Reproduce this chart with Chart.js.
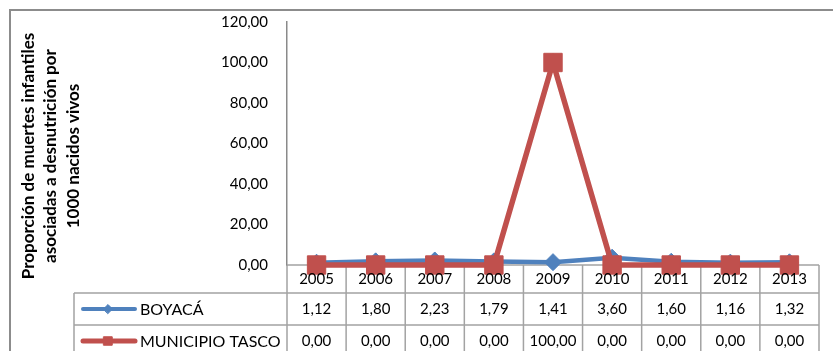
<!DOCTYPE html>
<html>
<head>
<meta charset="utf-8">
<script src="https://cdn.jsdelivr.net/npm/chart.js@4/dist/chart.umd.min.js"></script>
<style>
  html, body { margin: 0; padding: 0; background: #fff; }
  canvas { display: block; }
</style>
</head>
<body>
<canvas id="chart" width="833" height="351"></canvas>
<script>
// Years shown along the category axis and in the data table header
const years = ['2005', '2006', '2007', '2008', '2009', '2010', '2011', '2012', '2013'];
// Rate per 1000 live births, department level
const boyaca = [1.12, 1.80, 2.23, 1.79, 1.41, 3.60, 1.60, 1.16, 1.32];
// Rate per 1000 live births, municipality
const tasco = [0.00, 0.00, 0.00, 0.00, 100.00, 0.00, 0.00, 0.00, 0.00];
const seriesNames = ['BOYACÁ', 'MUNICIPIO TASCO'];
const yTicks = [0, 20, 40, 60, 80, 100, 120];
const yTitle = ['Proporción de muertes infantiles', 'asociadas a desnutrición por', '1000 nacidos vivos'];

const BLUE = '#4F81BD';
const RED = '#C0504D';
const GRID = '#a3a3a3';
const FONT = 'Lato';

const fmt = v => v.toFixed(2).replace('.', ',');

Chart.defaults.font.family = FONT;
Chart.defaults.font.size = 15;
Chart.defaults.color = '#000';

// Layout of the data table under the plot
const TABLE = {
  legendLeft: 74,     // left edge of the series-name column
  headerH: 28,        // height of the year row
  rowH: 32,           // height of each series row
};

const seriesStyles = [
  { color: BLUE, pointStyle: 'rectRot', radius: 4.5, lineW: 4 },
  { color: RED, pointStyle: 'rect', radius: 6, lineW: 5 },
];

const framePlugin = {
  id: 'frame',
  beforeDraw(chart) {
    const ctx = chart.ctx;
    ctx.save();
    ctx.strokeStyle = '#8c8c8c';
    ctx.lineWidth = 2;
    ctx.strokeRect(10, 10, chart.width + 20, chart.height + 20);
    ctx.restore();
  }
};

const tablePlugin = {
  id: 'dataTable',
  beforeDatasetsDraw(chart) {
    const { ctx, chartArea: a, scales: { x } } = chart;
    const colW = x.getPixelForValue(1) - x.getPixelForValue(0);
    const left = x.getPixelForValue(0) - colW / 2;
    const right = x.getPixelForValue(years.length - 1) + colW / 2;
    const r1 = a.bottom + TABLE.headerH;
    const r2 = r1 + TABLE.rowH;
    const bottom = chart.height + 5;
    ctx.save();
    ctx.strokeStyle = GRID;
    ctx.lineWidth = 1.5;
    ctx.beginPath();
    ctx.moveTo(left, a.bottom); ctx.lineTo(right, a.bottom);
    ctx.moveTo(TABLE.legendLeft, r1); ctx.lineTo(right, r1);
    ctx.moveTo(TABLE.legendLeft, r2); ctx.lineTo(right, r2);
    for (let i = 1; i <= years.length; i++) {
      const xp = left + i * colW;
      ctx.moveTo(xp, a.bottom); ctx.lineTo(xp, bottom);
    }
    ctx.moveTo(left, a.bottom); ctx.lineTo(left, bottom);
    ctx.moveTo(TABLE.legendLeft, r1); ctx.lineTo(TABLE.legendLeft, bottom);
    ctx.stroke();
    ctx.restore();
  },
  afterDraw(chart) {
    const { ctx, chartArea: a, scales: { x } } = chart;
    const r1 = a.bottom + TABLE.headerH;
    const rowCenters = [r1 + TABLE.rowH / 2, r1 + TABLE.rowH + 16];
    ctx.save();
    ctx.fillStyle = '#000';
    ctx.font = `15px ${FONT}`;
    ctx.textAlign = 'center';
    ctx.textBaseline = 'middle';
    years.forEach((yr, i) => ctx.fillText(yr, x.getPixelForValue(i), a.bottom + 14));
    chart.data.datasets.forEach((ds, d) => {
      ds.data.forEach((v, i) => ctx.fillText(fmt(v), x.getPixelForValue(i), rowCenters[d]));
    });
    // series keys in the first column
    ctx.textAlign = 'left';
    ctx.font = `16px ${FONT}`;
    chart.data.datasets.forEach((ds, d) => {
      const st = seriesStyles[d];
      const cy = rowCenters[d];
      ctx.strokeStyle = st.color;
      ctx.fillStyle = st.color;
      ctx.lineWidth = st.lineW;
      ctx.lineCap = 'round';
      ctx.beginPath();
      ctx.moveTo(83, cy); ctx.lineTo(135, cy);
      ctx.stroke();
      ctx.lineWidth = 1;
      Chart.helpers.drawPoint(ctx, { pointStyle: st.pointStyle, radius: st.radius, rotation: 0, borderWidth: 1 }, 108, cy);
      ctx.fillStyle = '#000';
      ctx.fillText(ds.label, 140, cy + 1);
    });
    // vertical axis title
    ctx.translate(51, 156);
    ctx.rotate(-Math.PI / 2);
    ctx.font = `bold 17px ${FONT}`;
    ctx.textAlign = 'center';
    yTitle.forEach((line, i) => ctx.fillText(line, 0, (i - 1) * 22.5));
    ctx.restore();
  }
};

new Chart(document.getElementById('chart'), {
  type: 'line',
  data: {
    labels: years,
    datasets: [
      {
        label: seriesNames[0],
        data: boyaca,
        borderColor: BLUE,
        backgroundColor: BLUE,
        borderWidth: 4.5,
        pointStyle: 'rectRot',
        pointRadius: 8.5,
        pointBorderWidth: 1,
        pointBackgroundColor: BLUE,
        pointBorderColor: BLUE,
        tension: 0,
        clip: false,
        order: 1,
      },
      {
        label: seriesNames[1],
        data: tasco,
        borderColor: RED,
        backgroundColor: RED,
        borderWidth: 5.5,
        pointStyle: 'rect',
        pointRadius: 13,
        pointBorderWidth: 1,
        pointBackgroundColor: RED,
        pointBorderColor: RED,
        tension: 0,
        clip: false,
        order: 0,
      },
    ],
  },
  options: {
    responsive: false,
    animation: false,
    events: [],
    layout: { padding: { left: 0, top: 22, right: 13, bottom: 86 } },
    plugins: { legend: { display: false }, tooltip: { enabled: false } },
    scales: {
      x: { type: 'category', display: false, offset: true },
      y: {
        min: 0,
        max: 120,
        afterFit(scale) {
          scale.width = 287;
          scale.paddingTop = 0;
          scale.paddingBottom = 0;
        },
        afterBuildTicks(scale) { scale.ticks = yTicks.map(v => ({ value: v })); },
        grid: { display: false, drawTicks: false },
        border: { display: true, color: '#8a8a8a', width: 1.5 },
        ticks: { padding: 19, color: '#000', font: { size: 15 }, callback: v => fmt(v) },
      },
    },
  },
  plugins: [framePlugin, tablePlugin],
});
</script>
</body>
</html>
